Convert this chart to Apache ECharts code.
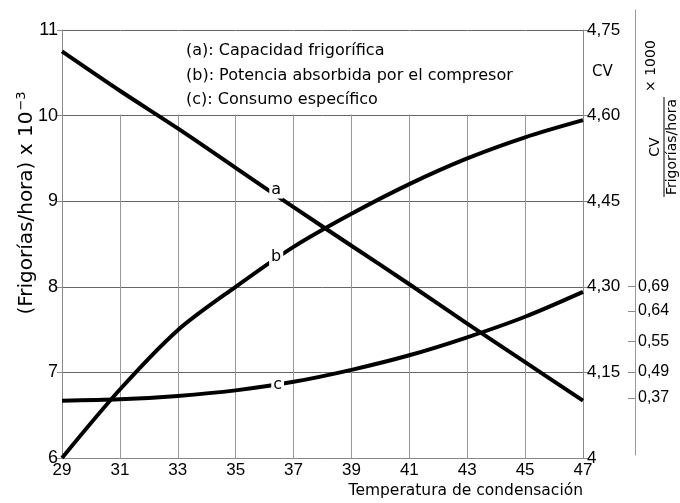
<!DOCTYPE html>
<html>
<head>
<meta charset="utf-8">
<script src="https://cdn.jsdelivr.net/npm/echarts@6/dist/echarts.min.js"></script>
<style>
  html, body { margin: 0; background: #fff; }
  #chart { width: 680px; height: 503px; }
</style>
</head>
<body>
<div id="chart"></div>
<script>
// temperatura de condensación
const temps = [29, 31, 33, 35, 37, 39, 41, 43, 45, 47];
// (a) capacidad frigorífica, (frigorías/hora) x 10^-3, left scale
const capacidad = [10.75, 10.29, 9.85, 9.39, 8.93, 8.48, 8.03, 7.57, 7.12, 6.67];
// (b) potencia absorbida, CV, right scale
const potencia = [4.0, 4.12, 4.224, 4.3, 4.37, 4.428, 4.48, 4.525, 4.562, 4.592];
// (c) consumo específico, read against the left scale (its own scale is not linear)
const consumo = [6.67, 6.685, 6.725, 6.79, 6.89, 7.03, 7.2, 7.41, 7.65, 7.94];

const cvTicks = [4, 4.15, 4.3, 4.45, 4.6, 4.75];
const cvLabels = ['4', '4,15', '4,30', '4,45', '4,60', '4,75'];
// where the consumo ticks sit, in left-scale units
const consumoTicks = [6.64, 6.95, 7.31, 7.67, 7.96];
const consumoLabels = ['0,37', '0,49', '0,55', '0,64', '0,69'];

const legendLines = [
  '(a): Capacidad frigorífica',
  '(b): Potencia absorbida por el compresor',
  '(c): Consumo específico'
];
const curveTags = ['a', 'b', 'c'];
const tagAt = [[36.4, 9.13], [36.4, 4.352], [36.45, 6.85]];

const NUM_FONT = 'Liberation Sans';
const TXT_FONT = 'DejaVu Sans';
const chart = echarts.init(document.getElementById('chart'));

// second grid only carries the taller consumo axis; keep its scale equal to the left one
const g0 = { top: 30, bottom: 45 };
const g1 = { top: 10, bottom: 48 };
const plotH = 503 - g0.top - g0.bottom;
const perPx = 5 / plotH;
const c_min = 6 - (g1.bottom - g0.bottom) * perPx;
const c_max = 11 + (g0.top - g1.top) * perPx;

const lineSeries = (name, data, yIdx, k) => ({
  name: name,
  type: 'line',
  xAxisIndex: 0,
  yAxisIndex: yIdx,
  data: temps.map((t, i) => [t, data[i]]),
  smooth: 0.3,
  showSymbol: false,
  lineStyle: { color: '#000', width: 4 },
  z: 3,
  markPoint: {
    symbol: 'circle',
    symbolSize: 1,
    itemStyle: { color: 'transparent' },
    label: {
      show: true,
      position: 'inside',
      formatter: curveTags[k],
      color: '#000',
      fontFamily: TXT_FONT,
      fontSize: 16,
      backgroundColor: '#fff',
      padding: [0, 2, 1, 2]
    },
    data: [{ coord: tagAt[k] }]
  }
});

const sA = lineSeries('a', capacidad, 0, 0);
// the top band (between 10 and 11) carries no vertical grid lines
sA.markArea = {
  silent: true,
  itemStyle: { color: '#fff' },
  data: [[{ coord: [29.04, 10.012] }, { coord: [46.96, 10.988] }]]
};

chart.setOption({
  animation: false,
  backgroundColor: '#fff',
  textStyle: { fontFamily: NUM_FONT },
  title: {
    text: legendLines.join('\n'),
    left: 181,
    top: 34,
    textStyle: { fontFamily: TXT_FONT, fontSize: 16, fontWeight: 'normal', color: '#000', lineHeight: 24.5 }
  },
  grid: [
    { left: 62, right: 97, top: g0.top, bottom: g0.bottom },
    { left: 62, right: 45, top: g1.top, bottom: g1.bottom }
  ],
  xAxis: [
    {
      type: 'value',
      gridIndex: 0,
      min: 29,
      max: 47,
      name: 'Temperatura de condensación',
      nameLocation: 'end',
      nameGap: 0,
      nameTextStyle: { fontFamily: TXT_FONT, fontSize: 15.5, color: '#000', align: 'right', verticalAlign: 'top', padding: [25, 0, 0, 0] },
      axisLine: { lineStyle: { color: '#888' } },
      axisTick: { show: false, customValues: temps },
      axisLabel: { customValues: temps, color: '#000', fontSize: 17, margin: 4 },
      splitLine: { show: true, lineStyle: { color: '#999', width: 1 } }
    },
    { type: 'value', gridIndex: 1, min: 29, max: 47, show: false }
  ],
  yAxis: [
    {
      type: 'value',
      gridIndex: 0,
      min: 6,
      max: 11,
      interval: 1,
      axisLine: { show: true, lineStyle: { color: '#888' } },
      axisTick: { show: true, length: 5, lineStyle: { color: '#888' } },
      axisLabel: { color: '#000', fontSize: 18, margin: 4 },
      splitLine: { show: true, lineStyle: { color: '#666', width: 1 } }
    },
    {
      type: 'value',
      gridIndex: 0,
      position: 'right',
      min: 4,
      max: 4.75,
      name: 'CV',
      nameLocation: 'end',
      nameGap: -42,
      nameTextStyle: { fontFamily: TXT_FONT, fontSize: 15, color: '#000', align: 'left', verticalAlign: 'middle', padding: [0, 0, 0, 9] },
      axisLine: { show: true, lineStyle: { color: '#888' } },
      axisTick: { show: true, length: 5, customValues: cvTicks, lineStyle: { color: '#888' } },
      axisLabel: {
        customValues: cvTicks,
        color: '#000',
        fontSize: 17,
        margin: 4,
        formatter: v => cvLabels[cvTicks.indexOf(v)]
      },
      splitLine: { show: false }
    },
    {
      type: 'value',
      gridIndex: 1,
      position: 'right',
      min: c_min,
      max: c_max,
      axisLine: { show: true, lineStyle: { color: '#999' } },
      axisTick: { show: true, inside: true, length: 7, customValues: consumoTicks, lineStyle: { color: '#888' } },
      axisLabel: {
        customValues: consumoTicks,
        color: '#000',
        fontSize: 16,
        margin: 3,
        formatter: v => consumoLabels[consumoTicks.indexOf(v)]
      },
      splitLine: { show: false }
    }
  ],
  graphic: [
    {
      // left axis title
      type: 'text',
      x: 27,
      y: 203,
      rotation: Math.PI / 2,
      style: {
        text: '(Frigorías/hora) x 10{sup|−3}',
        font: '20px ' + TXT_FONT,
        fill: '#000',
        textAlign: 'center',
        textVerticalAlign: 'middle',
        rich: { sup: { fontFamily: TXT_FONT, fontSize: 13, padding: [0, 0, 10, 1] } }
      }
    },
    {
      type: 'group',
      x: 664,
      y: 147,
      rotation: Math.PI / 2,
      children: [
        { type: 'text', x: 0, y: -2, style: { text: 'CV', font: '14px ' + TXT_FONT, fill: '#000', textAlign: 'center', textVerticalAlign: 'bottom' } },
        { type: 'line', shape: { x1: -50, y1: 0, x2: 50, y2: 0 }, style: { stroke: '#000', lineWidth: 1 } },
        { type: 'text', x: 0, y: 1, style: { text: 'Frigorías/hora', font: '14px ' + TXT_FONT, fill: '#000', textAlign: 'center', textVerticalAlign: 'top' } },
        { type: 'text', x: 55, y: -6, style: { text: '× 1000', font: '14px ' + TXT_FONT, fill: '#000', textAlign: 'left', textVerticalAlign: 'bottom' } }
      ]
    }
  ],
  series: [
    sA,
    lineSeries('b', potencia, 1, 1),
    lineSeries('c', consumo, 0, 2)
  ]
});
</script>
</body>
</html>
